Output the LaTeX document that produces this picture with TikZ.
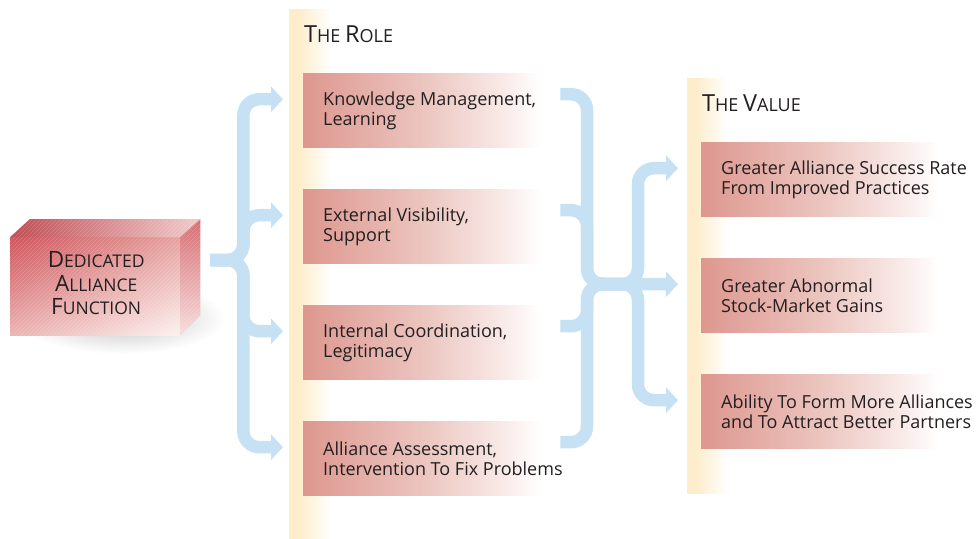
\documentclass[tikz,border=0pt]{standalone}
\usepackage{fontspec}
\setmainfont{Open Sans}
\usetikzlibrary{arrows.meta,calc,shadings}
\definecolor{flowblue}{HTML}{C6E1F4}
\definecolor{cream}{HTML}{FDEDCA}
\definecolor{roseL}{HTML}{DD978F}
\definecolor{roseM}{HTML}{ECC5BF}
\definecolor{roseW}{HTML}{F8E9E7}
\definecolor{ink}{HTML}{231F20}
\definecolor{cubedark}{HTML}{CF545B}
\definecolor{cubemid}{HTML}{E4A2A0}
\definecolor{cubelight}{HTML}{FCF1EF}
\definecolor{shadowgray}{HTML}{BDBDBD}
\definecolor{shadowsoft}{HTML}{DEDEDE}
\pgfdeclarehorizontalshading{boxfade}{100bp}{color(0bp)=(roseL); color(25bp)=(roseL); color(50bp)=(roseM); color(66bp)=(roseW); color(74bp)=(white); color(100bp)=(white)}
\pgfdeclarehorizontalshading{bandfade}{100bp}{color(0bp)=(cream); color(25bp)=(cream); color(36bp)=(cream); color(75bp)=(white); color(100bp)=(white)}
\pgfdeclareradialshading{shadowfade}{\pgfpoint{0bp}{0bp}}{color(0bp)=(shadowgray); color(12bp)=(shadowsoft); color(25bp)=(white); color(50bp)=(white)}
\newcommand\headcaps[2]{{\fontsize{23.5}{26}\selectfont #1}{\fontsize{18}{26}\selectfont #2}}
\newcommand\cubecaps[2]{{\fontsize{22.5}{24}\selectfont #1}{\fontsize{17.5}{24}\selectfont #2}}

\begin{document}
\begin{tikzpicture}[x=1pt,y=-1pt,>={Triangle[width=25pt,length=12pt]},
 flow/.style={draw=flowblue,line width=12.5pt,rounded corners=16pt},
 card/.style={shading=boxfade,minimum width=242pt,minimum height=74pt,anchor=north west,inner sep=0pt},
 cardtext/.style={anchor=west,align=left,inner sep=0pt,text=ink,font=\fontsize{18}{20}\selectfont},
 heading/.style={anchor=base west,inner sep=0pt,text=ink,font=\fontsize{18}{20}\selectfont}]
 \useasboundingbox (0,0) rectangle (976,538);
 % shadow under the cube
 \shade[shading=shadowfade] (122,318) ellipse (104 and 36);
 % cream strips behind both columns
 \shade[shading=bandfade] (289,9) rectangle (331,538);
 \shade[shading=bandfade] (687,78) rectangle (727,493);

 % the cube
 \node[minimum width=170pt,minimum height=98pt,anchor=north west,inner sep=0pt] (fn) at (10,237) {};
 \shade[upper left=cubedark,upper right=cubemid,lower left=cubemid!80!white,lower right=cubelight] (fn.north west) rectangle (fn.south east);
 \shade[left color=cubedark!92!black,right color=cubemid!55!white] (fn.north west) -- ++(20,-18) -- ($(fn.north east)+(20,-18)$) -- (fn.north east) -- cycle;
 \shade[top color=cubedark!85!white,bottom color=cubemid!35!white] (fn.north east) -- ++(20,-18) -- ($(fn.south east)+(20,-20)$) -- (fn.south east) -- cycle;
 % fine diagonal grain on the cube
 \begin{scope}
  \clip (fn.south west) -- (fn.north west) -- ++(20,-18) -- ($(fn.north east)+(20,-18)$) -- ($(fn.south east)+(20,-20)$) -- (fn.south east) -- cycle;
  \foreach \k in {0,4,...,320}
   \draw[white,draw opacity=.18,line width=.6pt] (\k-120,340) -- (\k,220);
 \end{scope}
 \node[font=\fontsize{22}{23.5}\selectfont,text=ink,align=center] (fnlabel) at ([xshift=1pt,yshift=3pt]fn.center) {\cubecaps{D}{EDICATED}\\\cubecaps{A}{LLIANCE}\\\cubecaps{F}{UNCTION}};

 % role column
 \node[heading] (rolehead) at (304,42) {\headcaps{T}{HE} \headcaps{R}{OLE}};
 \node[card] (role1) at (303,73) {};
 \node[card] (role2) at (303,189) {};
 \node[card] (role3) at (303,305) {};
 \node[card] (role4) at (303,421) {};
 \node[cardtext] (role1text) at ([xshift=20pt,yshift=-1pt]role1.west) {Knowledge Management,\\Learning};
 \node[cardtext] (role2text) at ([xshift=20pt,yshift=-1pt]role2.west) {External Visibility,\\Support};
 \node[cardtext] (role3text) at ([xshift=20pt,yshift=-1pt]role3.west) {Internal Coordination,\\Legitimacy};
 \node[cardtext] (role4text) at ([xshift=20pt,yshift=-1pt]role4.west) {Alliance Assessment,\\Intervention To Fix Problems};

 % value column
 \node[heading] (valuehead) at (702,111) {\headcaps{T}{HE} \headcaps{V}{ALUE}};
 \node[card] (value1) at (701,142) {};
 \node[card] (value2) at (701,258) {};
 \node[card] (value3) at (701,374) {};
 \node[cardtext] (value1text) at ([xshift=20pt,yshift=-1pt]value1.west) {Greater Alliance Success Rate\\From Improved Practices};
 \node[cardtext] (value2text) at ([xshift=20pt,yshift=-1pt]value2.west) {Greater Abnormal\\Stock-Market Gains};
 \node[cardtext] (value3text) at ([xshift=20pt,yshift=-1pt]value3.west) {Ability To Form More Alliances\\and To Attract Better Partners};

 % brace from the cube to the roles
 \coordinate (stem) at ([xshift=30pt,yshift=-23pt]fn.north east);
 \coordinate (brace) at ([xshift=33pt]stem);
 \coordinate (r1) at ([xshift=-20pt,yshift=11pt]role1.west);
 \coordinate (r2) at ([xshift=-20pt,yshift=11pt]role2.west);
 \coordinate (r3) at ([xshift=-20pt,yshift=11pt]role3.west);
 \coordinate (r4) at ([xshift=-20pt,yshift=11pt]role4.west);
 \draw[flow,->] (stem) -- (brace) -- (brace |- r1) -- (r1);
 \draw[flow,->] (stem) -- (brace) -- (brace |- r2) -- (r2);
 \draw[flow,->] (stem) -- (brace) -- (brace |- r3) -- (r3);
 \draw[flow,->] (stem) -- (brace) -- (brace |- r4) -- (r4);

 % roles merge and split to the values
 \coordinate (m1) at ([xshift=15pt,yshift=16pt]role1.east);
 \coordinate (m2) at ([xshift=15pt,yshift=16pt]role2.east);
 \coordinate (m3) at ([xshift=15pt,yshift=16pt]role3.east);
 \coordinate (m4) at ([xshift=15pt,yshift=16pt]role4.east);
 \coordinate (jl) at (587,284);
 \coordinate (jr) at (638,284);
 \coordinate (v1) at ([xshift=-23pt,yshift=11pt]value1.west);
 \coordinate (v2) at ([xshift=-23pt,yshift=11pt]value2.west);
 \coordinate (v3) at ([xshift=-23pt,yshift=11pt]value3.west);
 \draw[flow] (m1) -- (m1 -| jl) -- (jl) -- (jr);
 \draw[flow] (m2) -- (m2 -| jl) -- (jl) -- (jr);
 \draw[flow] (m3) -- (m3 -| jl) -- (jl) -- (jr);
 \draw[flow] (m4) -- (m4 -| jl) -- (jl) -- (jr);
 \draw[flow,->] (jl) -- (jr) -- (jr |- v1) -- (v1);
 \draw[flow,->] (jl) -- (v2);
 \draw[flow,->] (jl) -- (jr) -- (jr |- v3) -- (v3);
\end{tikzpicture}
\end{document}
